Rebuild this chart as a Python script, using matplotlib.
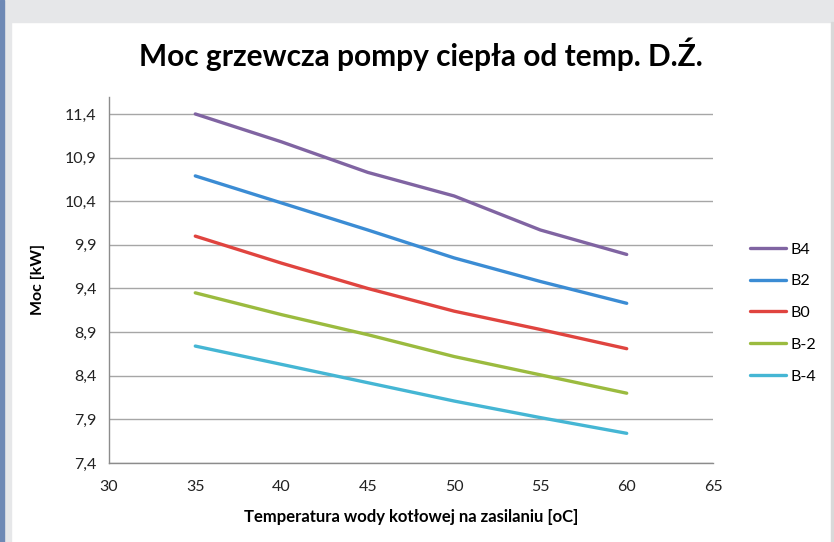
import matplotlib
matplotlib.use("Agg")
import matplotlib.pyplot as plt
from matplotlib.patches import Rectangle

temps = [35, 40, 45, 50, 55, 60]
series_names = ["B4", "B2", "B0", "B-2", "B-4"]
b4 = [11.40, 11.08, 10.73, 10.46, 10.07, 9.79]
b2 = [10.69, 10.38, 10.07, 9.75, 9.48, 9.23]
b0 = [10.00, 9.69, 9.40, 9.14, 8.93, 8.71]
bm2 = [9.35, 9.10, 8.87, 8.62, 8.41, 8.20]
bm4 = [8.74, 8.53, 8.32, 8.11, 7.92, 7.74]
colors = ["#8064A2", "#3B8CD4", "#E0443F", "#9BBB3F", "#45B6D4"]
yticks = [7.4, 7.9, 8.4, 8.9, 9.4, 9.9, 10.4, 10.9, 11.4]
xticks = [30, 35, 40, 45, 50, 55, 60, 65]

plt.rcParams['font.family'] = ['Lato', 'DejaVu Sans']

W, H = 834, 542
fig = plt.figure(figsize=(W/100, H/100), dpi=100)
fig.patch.set_facecolor("white")
# frame decorations
fig.add_artist(Rectangle((0, 1-22/H), 1, 22/H, transform=fig.transFigure, color="#E6E7E9", zorder=0))
fig.add_artist(Rectangle((0, 0), 11/W, 1, transform=fig.transFigure, color="#E6E7E9", zorder=0))
fig.add_artist(Rectangle((0, 0), 4/W, 1, transform=fig.transFigure, color="#6E89B5", zorder=1))
fig.add_artist(Rectangle((831/W, 0), 1.5/W, 1-22/H, transform=fig.transFigure, color="#D9D9D9", zorder=1))

ax = fig.add_axes([109/W, 1-463/H, (713-109)/W, (463-96.5)/H])
for name, vals, c in zip(series_names, [b4, b2, b0, bm2, bm4], colors):
    ax.plot(temps, vals, color=c, lw=2.4, label=name, solid_capstyle="round",
            solid_joinstyle="round", zorder=3)

ax.set_xlim(30, 65)
ax.set_ylim(7.4, 11.6)
ax.set_xticks(xticks)
ax.set_yticks(yticks)
ax.set_xticklabels([str(t) for t in xticks])
ax.set_yticklabels([f"{v:.1f}".replace(".", ",") for v in yticks])
ax.tick_params(length=0, labelsize=11.5, colors="#222222", pad=9)
ax.tick_params(axis="x", pad=12)
ax.yaxis.grid(True, color="#A6A6A6", lw=1.0)
ax.set_axisbelow(True)
for s in ["top", "right"]:
    ax.spines[s].set_visible(False)
for s in ["left", "bottom"]:
    ax.spines[s].set_color("#8C8C8C")
    ax.spines[s].set_linewidth(1.0)

ax.set_ylabel("Moc [kW]", fontsize=11.5, fontweight="bold", labelpad=14)
ax.set_xlabel("Temperatura wody kotłowej na zasilaniu [oC]", fontsize=12, fontweight="bold", labelpad=11)
fig.text(421/W, 1-54/H, "Moc grzewcza pompy ciepła od temp. D.Ź.", fontsize=21.5, fontweight="bold",
         ha="center", va="center")

leg = ax.legend(loc="upper left", bbox_to_anchor=(736/W, 1-228/H), bbox_transform=fig.transFigure,
                frameon=False, fontsize=11.5, handlelength=2.2, labelspacing=1.1, handletextpad=0.3)

fig.savefig("out.png", dpi=100)
